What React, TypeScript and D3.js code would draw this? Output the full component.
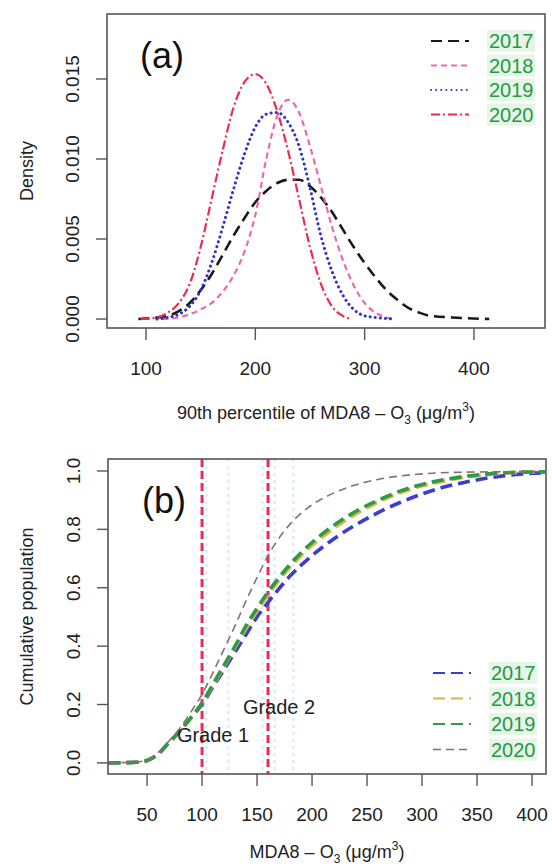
import React from "react";
import * as d3 from "d3";

// ---- panel (a): density curves ----
const years = ["2017", "2018", "2019", "2020"];

const dens2017: [number, number][] = [
  [93, 0], [110, 0.0001], [120, 0.0002], [130, 0.0005], [140, 0.001], [150, 0.0018],
  [160, 0.0028], [170, 0.004], [180, 0.0052], [190, 0.0063], [200, 0.0073], [210, 0.008],
  [220, 0.0085], [230, 0.0087], [240, 0.0087], [250, 0.0083], [260, 0.0076], [270, 0.0067],
  [280, 0.0056], [290, 0.0045], [300, 0.0035], [310, 0.0026], [320, 0.0018], [330, 0.0012],
  [340, 0.0007], [350, 0.0004], [360, 0.0002], [380, 0.0001], [414, 0],
];
const dens2018: [number, number][] = [
  [115, 0], [130, 0.0001], [140, 0.0003], [150, 0.0006], [160, 0.001], [170, 0.0017],
  [180, 0.0027], [190, 0.0042], [200, 0.0065], [210, 0.0100], [220, 0.0127], [230, 0.0137],
  [240, 0.0129], [250, 0.0108], [260, 0.0083], [270, 0.0058], [280, 0.0037], [290, 0.0021],
  [300, 0.001], [310, 0.0004], [320, 0.0001], [326, 0],
];
const dens2019: [number, number][] = [
  [110, 0], [120, 0.0001], [130, 0.0003], [140, 0.0008], [150, 0.0018], [160, 0.0035],
  [170, 0.0057], [180, 0.0081], [190, 0.0103], [200, 0.012], [210, 0.0128], [220, 0.0129],
  [230, 0.0123], [240, 0.0108], [250, 0.0082], [260, 0.0052], [270, 0.003], [280, 0.0015],
  [290, 0.0006], [300, 0.0002], [310, 0.0001], [326, 0],
];
const dens2020: [number, number][] = [
  [95, 0], [110, 0.0001], [120, 0.0004], [130, 0.001], [140, 0.0022], [150, 0.0045],
  [160, 0.0075], [170, 0.0105], [180, 0.0132], [190, 0.0148], [200, 0.0153], [210, 0.0147],
  [220, 0.013], [230, 0.0105], [240, 0.0075], [250, 0.0045], [260, 0.0022], [270, 0.0008],
  [280, 0.0002], [288, 0],
];

// ---- panel (b): cumulative population ----
const cum2017: [number, number][] = [
  [15, 0], [40, 0.002], [50, 0.008], [60, 0.03], [70, 0.07], [80, 0.11], [90, 0.155],
  [100, 0.2], [110, 0.26], [120, 0.32], [130, 0.38], [140, 0.44], [150, 0.5], [160, 0.55],
  [170, 0.597], [180, 0.64], [190, 0.677], [200, 0.71], [220, 0.768], [240, 0.816], [260, 0.857],
  [280, 0.892], [300, 0.921], [320, 0.945], [340, 0.962], [360, 0.976], [380, 0.986], [412, 0.994],
];
const cum2018: [number, number][] = [
  [15, 0], [40, 0.002], [50, 0.008], [60, 0.03], [70, 0.07], [80, 0.11], [90, 0.155],
  [100, 0.205], [110, 0.265], [120, 0.33], [130, 0.395], [140, 0.46], [150, 0.52], [160, 0.575],
  [170, 0.625], [180, 0.67], [190, 0.71], [200, 0.745], [220, 0.804], [240, 0.853], [260, 0.893],
  [280, 0.925], [300, 0.949], [320, 0.966], [340, 0.979], [360, 0.988], [380, 0.994], [412, 0.997],
];
const cum2019: [number, number][] = [
  [15, 0], [40, 0.002], [50, 0.008], [60, 0.03], [70, 0.07], [80, 0.11], [90, 0.155],
  [100, 0.205], [110, 0.27], [120, 0.335], [130, 0.4], [140, 0.47], [150, 0.53], [160, 0.585],
  [170, 0.635], [180, 0.68], [190, 0.72], [200, 0.755], [220, 0.814], [240, 0.862], [260, 0.9],
  [280, 0.931], [300, 0.954], [320, 0.97], [340, 0.982], [360, 0.99], [380, 0.995], [412, 0.997],
];
const cum2020: [number, number][] = [
  [15, 0], [40, 0.003], [50, 0.01], [60, 0.035], [70, 0.075], [80, 0.12], [90, 0.175],
  [100, 0.235], [110, 0.31], [120, 0.39], [130, 0.47], [140, 0.555], [150, 0.635], [160, 0.71],
  [170, 0.77], [180, 0.818], [190, 0.855], [200, 0.884], [220, 0.925], [240, 0.953], [260, 0.971],
  [280, 0.983], [300, 0.99], [340, 0.996], [412, 0.998],
];

const xTicksA = [100, 200, 300, 400];
const yTicksA = [0, 0.005, 0.01, 0.015];
const xTicksB = [50, 100, 150, 200, 250, 300, 350, 400];
const yTicksB = [0, 0.2, 0.4, 0.6, 0.8, 1.0];
const gradeLines = [100, 160];
const faintLines = [104, 124, 155, 166, 183];
const gradeLabels = [
  { text: "Grade 1", x: 110, y: 0.096 },
  { text: "Grade 2", x: 170, y: 0.19 },
];

const W = 552;
const H = 866;
const FONT = "'Liberation Sans', Arial, Helvetica, sans-serif";
const AXIS = "#555";

const styleA = [
  { color: "#1a1a1a", dash: "11,6", width: 2.6, cap: "butt" },
  { color: "#ee6aa6", dash: "6,4", width: 2.2, cap: "butt" },
  { color: "#3333c4", dash: "0.1,5", width: 3, cap: "round" },
  { color: "#ee2a4e", dash: "9,3,2,3", width: 2.2, cap: "butt" },
];
const styleB = [
  { color: "#3c3cd0", dash: "12,6", width: 3.6 },
  { color: "#d8b848", dash: "12,6", width: 3.6 },
  { color: "#2e9a44", dash: "12,6", width: 3.6 },
  { color: "#8c6e6e", dash: "8,5", width: 1.6 },
];

const App = () => {
  const pa = { l: 107, r: 545, t: 14, b: 328 };
  const pb = { l: 108, r: 546, t: 459, b: 774 };

  const xA = d3.scaleLinear().domain([64.3, 465]).range([pa.l, pa.r]);
  const yA = d3.scaleLinear().domain([-0.00056, 0.01906]).range([pa.b, pa.t]);
  const xB = d3.scaleLinear().domain([14.5, 412.7]).range([pb.l, pb.r]);
  const yB = d3.scaleLinear().domain([-0.038, 1.041]).range([pb.b, pb.t]);

  const lineA = d3
    .line<[number, number]>()
    .x((d) => xA(d[0]))
    .y((d) => yA(d[1]))
    .curve(d3.curveMonotoneX);
  const lineB = d3
    .line<[number, number]>()
    .x((d) => xB(d[0]))
    .y((d) => yB(d[1]))
    .curve(d3.curveMonotoneX);

  const densSeries = [dens2017, dens2018, dens2019, dens2020];
  const cumSeries = [cum2017, cum2018, cum2019, cum2020];

  const fmtA = d3.format(".3f");
  const fmtB = d3.format(".1f");

  // legend boxes
  const legend = (x0: number, y0: number, gap: number, styles: any[]) =>
    years.map((yr, i) => (
      <g key={yr} transform={`translate(${x0},${y0 + i * gap})`}>
        <line
          x1={0}
          x2={38}
          y1={0}
          y2={0}
          stroke={styles[i].color}
          strokeWidth={Math.min(styles[i].width, 2)}
          strokeDasharray={styles[i].dash}
          strokeLinecap={styles[i].cap || "butt"}
        />
        <rect x={56} y={-11} width={48} height={22} fill="#dcf1dc" opacity={0.7} />
        <text x={58} y={7} fontSize={20} fill="#1f9a4a" fontFamily={FONT}>
          {yr}
        </text>
      </g>
    ));

  return (
    <svg
      width={W}
      height={H}
      style={{ position: "absolute", left: 0, top: 0, background: "#fff" }}
      fontFamily={FONT}
    >
      <rect width={W} height={H} fill="#fff" />

      {/* ---------- panel (a) ---------- */}
      <g>
        {densSeries.map((s, i) => (
          <path
            key={i}
            d={lineA(s) || ""}
            fill="none"
            stroke={styleA[i].color}
            strokeWidth={styleA[i].width}
            strokeDasharray={styleA[i].dash}
            strokeLinecap={styleA[i].cap as any}
          />
        ))}
        <rect x={pa.l} y={pa.t} width={pa.r - pa.l} height={pa.b - pa.t} fill="none" stroke={AXIS} strokeWidth={1.6} />
        {xTicksA.map((t) => (
          <g key={t}>
            <line x1={xA(t)} x2={xA(t)} y1={pa.b} y2={pa.b + 12} stroke={AXIS} strokeWidth={1.4} />
            <text x={xA(t)} y={pa.b + 47} textAnchor="middle" fontSize={19} fill="#222">
              {t}
            </text>
          </g>
        ))}
        {yTicksA.map((t) => (
          <g key={t}>
            <line x1={pa.l - 11} x2={pa.l} y1={yA(t)} y2={yA(t)} stroke={AXIS} strokeWidth={1.4} />
            <text
              transform={`translate(${pa.l - 28},${yA(t)}) rotate(-90)`}
              textAnchor="middle"
              fontSize={19}
              fill="#222"
            >
              {fmtA(t)}
            </text>
          </g>
        ))}
        <text transform={`translate(33,${(pa.t + pa.b) / 2}) rotate(-90)`} textAnchor="middle" fontSize={18} fill="#222">
          Density
        </text>
        <text x={(pa.l + pa.r) / 2} y={419} textAnchor="middle" fontSize={18} fill="#222">
          90th percentile of MDA8 – O
          <tspan fontSize={12} dy={5}>3</tspan>
          <tspan dy={-5}> (μg/m</tspan>
          <tspan fontSize={12} dy={-8}>3</tspan>
          <tspan dy={8}>)</tspan>
        </text>
        <text x={140} y={68} fontSize={36} fill="#111">
          (a)
        </text>
        {legend(431, 41, 24.5, styleA)}
      </g>

      {/* ---------- panel (b) ---------- */}
      <g>
        {faintLines.map((v) => (
          <line
            key={v}
            x1={xB(v)}
            x2={xB(v)}
            y1={pb.t}
            y2={pb.b}
            stroke="#bfe6ee"
            strokeWidth={2}
            strokeDasharray="3,4"
            opacity={0.7}
          />
        ))}
        {gradeLines.map((v) => (
          <line
            key={v}
            x1={xB(v)}
            x2={xB(v)}
            y1={pb.t}
            y2={pb.b}
            stroke="#ee2a55"
            strokeWidth={3}
            strokeDasharray="8,4"
          />
        ))}
        {cumSeries.map((s, i) => (
          <path
            key={i}
            d={lineB(s) || ""}
            fill="none"
            stroke={styleB[i].color}
            strokeWidth={styleB[i].width}
            strokeDasharray={styleB[i].dash}
          />
        ))}
        {gradeLabels.map((g) => (
          <text key={g.text} x={xB(g.x)} y={yB(g.y) + 7} textAnchor="middle" fontSize={20} fill="#222">
            {g.text}
          </text>
        ))}
        <rect x={pb.l} y={pb.t} width={pb.r - pb.l} height={pb.b - pb.t} fill="none" stroke={AXIS} strokeWidth={1.6} />
        {xTicksB.map((t) => (
          <g key={t}>
            <line x1={xB(t)} x2={xB(t)} y1={pb.b} y2={pb.b + 12} stroke={AXIS} strokeWidth={1.4} />
            <text x={xB(t)} y={pb.b + 47} textAnchor="middle" fontSize={19} fill="#222">
              {t}
            </text>
          </g>
        ))}
        {yTicksB.map((t) => (
          <g key={t}>
            <line x1={pb.l - 11} x2={pb.l} y1={yB(t)} y2={yB(t)} stroke={AXIS} strokeWidth={1.4} />
            <text
              transform={`translate(${pb.l - 28},${yB(t)}) rotate(-90)`}
              textAnchor="middle"
              fontSize={19}
              fill="#222"
            >
              {fmtB(t)}
            </text>
          </g>
        ))}
        <text transform={`translate(33,${(pb.t + pb.b) / 2}) rotate(-90)`} textAnchor="middle" fontSize={18} fill="#222">
          Cumulative population
        </text>
        <text x={(pb.l + pb.r) / 2} y={858} textAnchor="middle" fontSize={18} fill="#222">
          MDA8 – O
          <tspan fontSize={12} dy={5}>3</tspan>
          <tspan dy={-5}> (μg/m</tspan>
          <tspan fontSize={12} dy={-8}>3</tspan>
          <tspan dy={8}>)</tspan>
        </text>
        <text x={142} y={513} fontSize={36} fill="#111">
          (b)
        </text>
        {legend(433, 673, 25.5, styleB.map((s) => ({ ...s, cap: "butt" })))}
      </g>
    </svg>
  );
};

export default App;
